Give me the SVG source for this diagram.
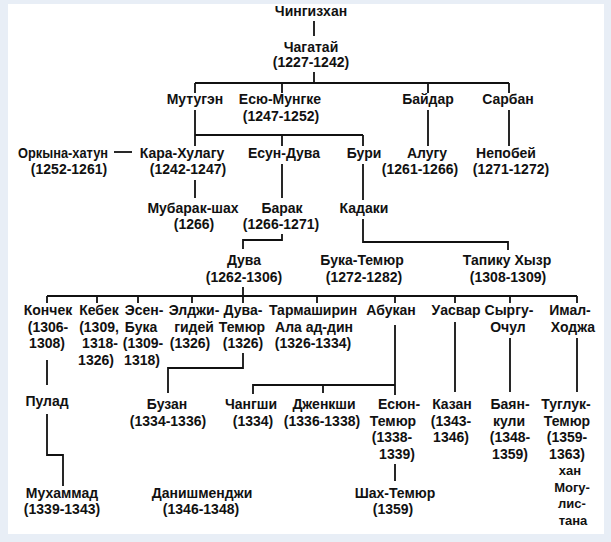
<svg xmlns="http://www.w3.org/2000/svg" width="611" height="542" viewBox="0 0 611 542">
<style>
text{font-family:"Liberation Sans",Arial,sans-serif;font-size:14px;font-weight:bold;fill:#111;text-anchor:middle}
.s{font-size:13px}
#connectors path{fill:none;stroke:#111;stroke-width:1.8}
</style>
<rect x="0" y="0" width="611" height="542" fill="#e8eef6"/>
<rect x="8" y="4" width="596" height="530" fill="#ffffff"/>
<g id="connectors">
<path d="M314 21V36M314 72V83M195 83H509M195 83V93M282 83V93M428 83V93M509 83V93"/>
<path d="M195 110V135H363M195 135V146M282 135V146M363 135V146M428 110V146M509 110V146"/>
<path d="M114 152H132"/>
<path d="M195 180V198M282 164V198M363 164V200"/>
<path d="M282 234V240H243V249M363 219V242H508V250"/>
<path d="M243 287V303M47 296H577M47 296V303M97 296V303M138 296V303M192 296V303M317 296V303M395 296V303M455 296V303M510 296V303M577 296V303"/>
<path d="M47 360V385M47 414V455H63V486"/>
<path d="M243 353V368H168V393"/>
<path d="M395 325V385H253V394M323 385V393M395 385V395"/>
<path d="M455 322V392M510 338V392M577 338V392M395 464V481"/>
</g>
<g id="n_chingiz"><text x="311" y="16">Чингизхан</text></g>
<g id="n_chagatai"><text x="311" y="52">Чагатай</text><text x="311" y="67">(1227-1242)</text></g>
<g id="n_mutugen"><text x="195" y="104">Мутугэн</text></g>
<g id="n_esu"><text x="280" y="104">Есю-Мунгке</text><text x="281" y="120.5">(1247-1252)</text></g>
<g id="n_baidar"><text x="428" y="104">Байдар</text></g>
<g id="n_sarban"><text x="508" y="104">Сарбан</text></g>
<g id="n_orkyna"><text x="63" y="158" textLength="90" lengthAdjust="spacingAndGlyphs">Оркына-хатун</text><text x="69" y="174">(1252-1261)</text></g>
<g id="n_kara"><text x="182" y="158">Кара-Хулагу</text><text x="188" y="174">(1242-1247)</text></g>
<g id="n_esun"><text x="284" y="158">Есун-Дува</text></g>
<g id="n_buri"><text x="364" y="158">Бури</text></g>
<g id="n_alugu"><text x="427" y="158">Алугу</text><text x="420" y="174">(1261-1266)</text></g>
<g id="n_nepobei"><text x="506" y="158">Непобей</text><text x="511" y="174">(1271-1272)</text></g>
<g id="n_mubarak"><text x="193" y="213">Мубарак-шах</text><text x="194" y="229">(1266)</text></g>
<g id="n_barak"><text x="282" y="213">Барак</text><text x="281" y="229">(1266-1271)</text></g>
<g id="n_kadaki"><text x="364" y="213">Кадаки</text></g>
<g id="n_duva"><text x="244" y="265">Дува</text><text x="244" y="281.5">(1262-1306)</text></g>
<g id="n_buka"><text x="362" y="265">Бука-Темюр</text><text x="364" y="281.5">(1272-1282)</text></g>
<g id="n_tapiku"><text x="507" y="265">Тапику Хызр</text><text x="508" y="281.5">(1308-1309)</text></g>
<g id="n_konchek"><text x="48" y="315">Кончек</text><text x="48" y="331.5">(1306-</text><text x="47" y="348">1308)</text></g>
<g id="n_kebek"><text x="99" y="315">Кебек</text><text x="99" y="331.5">(1309,</text><text x="100" y="348">1318-</text><text x="96" y="364.5">1326)</text></g>
<g id="n_esen"><text x="144" y="315">Эсен-</text><text x="141" y="331.5">Бука</text><text x="143" y="348">(1309-</text><text x="142" y="364.5">1318)</text></g>
<g id="n_eldzhi"><text x="194" y="315">Элджи-</text><text x="194" y="331.5">гидей</text><text x="190" y="348">(1326)</text></g>
<g id="n_duvatemur"><text x="243" y="315">Дува-</text><text x="242" y="331.5">Темюр</text><text x="243" y="348">(1326)</text></g>
<g id="n_tarma"><text x="313" y="315">Тармаширин</text><text x="314" y="331.5">Ала ад-дин</text><text x="313" y="348">(1326-1334)</text></g>
<g id="n_abukan"><text x="391" y="315">Абукан</text></g>
<g id="n_uasvar"><text x="456" y="315">Уасвар</text></g>
<g id="n_syrgu"><text x="509" y="315">Сыргу-</text><text x="508" y="331.5">Очул</text></g>
<g id="n_imal"><text x="570" y="315">Имал-</text><text x="573" y="331.5">Ходжа</text></g>
<g id="n_pulad"><text x="47" y="406">Пулад</text></g>
<g id="n_buzan"><text x="167" y="409">Бузан</text><text x="168" y="425.5">(1334-1336)</text></g>
<g id="n_changshi"><text x="251" y="409">Чангши</text><text x="253" y="425.5">(1334)</text></g>
<g id="n_dzhenkshi"><text x="324" y="409">Дженкши</text><text x="322" y="425.5">(1336-1338)</text></g>
<g id="n_esuntemur"><text x="399" y="409">Есюн-</text><text x="393" y="425.5">Темюр</text><text x="392" y="442">(1338-</text><text x="397" y="458.5">1339)</text></g>
<g id="n_kazan"><text x="452" y="409">Казан</text><text x="451" y="425.5">(1343-</text><text x="451" y="442">1346)</text></g>
<g id="n_bayan"><text x="510" y="409">Баян-</text><text x="509" y="425.5">кули</text><text x="510" y="442">(1348-</text><text x="510" y="458.5">1359)</text></g>
<g id="n_tugluk"><text x="566" y="409">Туглук-</text><text x="567" y="425.5">Темюр</text><text x="567" y="442">(1359-</text><text x="567" y="458.5">1363)</text><text class="s" x="570" y="475">хан</text><text class="s" x="572" y="491.5">Могу-</text><text class="s" x="572" y="508">лис-</text><text class="s" x="573" y="525">тана</text></g>
<g id="n_muhammad"><text x="62" y="498">Мухаммад</text><text x="62" y="514">(1339-1343)</text></g>
<g id="n_danish"><text x="202" y="498">Данишменджи</text><text x="201" y="514">(1346-1348)</text></g>
<g id="n_shah"><text x="395" y="498">Шах-Темюр</text><text x="393" y="514">(1359)</text></g>
</svg>
